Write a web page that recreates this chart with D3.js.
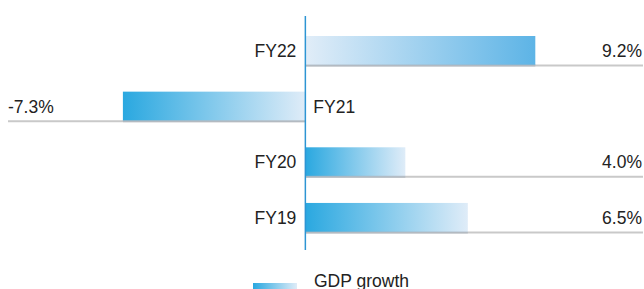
<!DOCTYPE html>
<html>
<head>
<meta charset="utf-8">
<script src="https://cdn.jsdelivr.net/npm/d3@7"></script>
<style>
  body { margin: 0; background: #fff; }
  svg text { font-family: "Liberation Sans", Arial, Helvetica, sans-serif; font-size: 17.5px; fill: #222; }
</style>
</head>
<body>
<svg id="chart" width="644" height="289"></svg>
<script>
var years = ["FY22", "FY21", "FY20", "FY19"];
var growth = [9.2, -7.3, 4.0, 6.5];
var valueLabels = ["9.2%", "-7.3%", "4.0%", "6.5%"];
var seriesName = "GDP growth";

var data = years.map(function(d, i) {
  return {year: d, value: growth[i], label: valueLabels[i]};
});

var width = 644, height = 289;
var svg = d3.select("#chart");

// gradients
var defs = svg.append("defs");
function gradient(id, from, to) {
  var g = defs.append("linearGradient").attr("id", id)
    .attr("x1", "0%").attr("x2", "100%").attr("y1", "0%").attr("y2", "0%");
  g.append("stop").attr("offset", "0%").attr("stop-color", from);
  g.append("stop").attr("offset", "100%").attr("stop-color", to);
}
gradient("darkLeft", "#2aa8e0", "#dfecf8");
gradient("lightLeft", "#e1edf8", "#5db4e6");

var x = d3.scaleLinear().domain([-8, 10]).range([105.4, 555.3]);
var y = d3.scaleBand().domain(years).range([36, 233]).paddingInner(0.46).paddingOuter(0);

// baseline rules under each bar
svg.selectAll(".rule")
  .data(data)
  .enter().append("line")
  .attr("class", "rule")
  .attr("x1", function(d) { return d.value < 0 ? 8 : x(0); })
  .attr("x2", function(d) { return d.value < 0 ? x(0) : 643; })
  .attr("y1", function(d) { return y(d.year) + y.bandwidth() - 0.5; })
  .attr("y2", function(d) { return y(d.year) + y.bandwidth() - 0.5; })
  .attr("stroke", "#c9c9c9")
  .attr("stroke-width", 2);

svg.selectAll(".bar")
  .data(data)
  .enter().append("rect")
  .attr("class", "bar")
  .attr("x", function(d) { return x(Math.min(0, d.value)); })
  .attr("y", function(d) { return y(d.year); })
  .attr("width", function(d) { return Math.abs(x(d.value) - x(0)); })
  .attr("height", y.bandwidth() - 1)
  .attr("fill", function(d) { return d.year == "FY22" ? "url(#lightLeft)" : "url(#darkLeft)"; });

// gray edge over bar bottoms
svg.selectAll(".edge")
  .data(data)
  .enter().append("line")
  .attr("x1", function(d) { return x(Math.min(0, d.value)); })
  .attr("x2", function(d) { return x(Math.max(0, d.value)); })
  .attr("y1", function(d) { return y(d.year) + y.bandwidth() - 0.5; })
  .attr("y2", function(d) { return y(d.year) + y.bandwidth() - 0.5; })
  .attr("stroke", "#a9b4bd")
  .attr("stroke-opacity", 0.7)
  .attr("stroke-width", 2);

// vertical axis
svg.append("line")
  .attr("x1", x(0)).attr("x2", x(0))
  .attr("y1", 16).attr("y2", 250)
  .attr("stroke", "#2d95d3")
  .attr("stroke-width", 1.5);

// category labels
svg.selectAll(".cat")
  .data(data)
  .enter().append("text")
  .attr("x", function(d) { return d.value < 0 ? x(0) + 8 : x(0) - 9; })
  .attr("y", function(d) { return y(d.year) + y.bandwidth() / 2; })
  .attr("dy", "0.35em")
  .attr("text-anchor", function(d) { return d.value < 0 ? "start" : "end"; })
  .text(function(d) { return d.year; });

// value labels
svg.selectAll(".val")
  .data(data)
  .enter().append("text")
  .attr("x", function(d) { return d.value < 0 ? 8 : 642; })
  .attr("y", function(d) { return y(d.year) + y.bandwidth() / 2; })
  .attr("dy", "0.35em")
  .attr("text-anchor", function(d) { return d.value < 0 ? "start" : "end"; })
  .text(function(d) { return d.label; });

// legend
var legend = svg.append("g").attr("transform", "translate(253,283)");
legend.append("rect")
  .attr("width", 44).attr("height", 16)
  .attr("fill", "url(#darkLeft)");
legend.append("text")
  .attr("x", 61).attr("y", 3.5)
  .text(seriesName);
</script>
</body>
</html>
